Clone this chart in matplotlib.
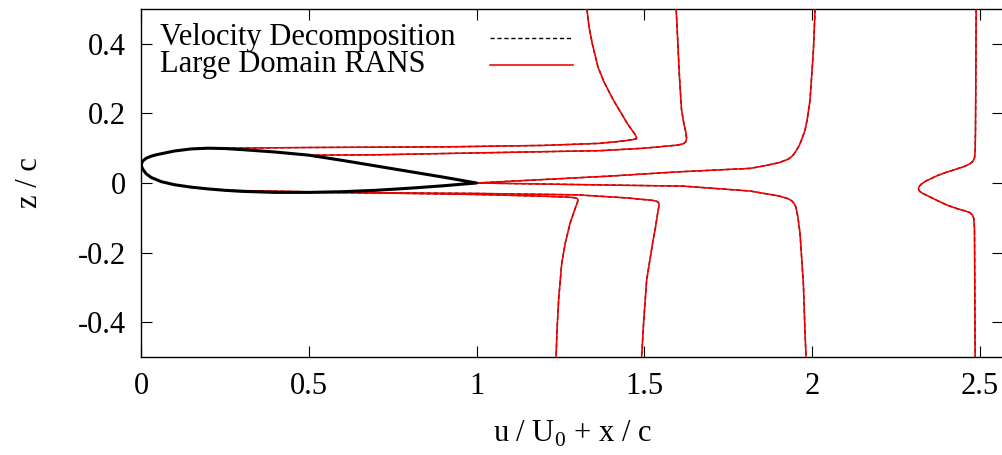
import numpy as np
import matplotlib
matplotlib.use("Agg")
import matplotlib.pyplot as plt

plt.rcParams['font.family'] = ['Liberation Serif', 'DejaVu Serif']
plt.rcParams['mathtext.fontset'] = 'custom'
plt.rcParams['mathtext.rm'] = 'Liberation Serif'
plt.rcParams['axes.unicode_minus'] = False

# airfoil outline (x/c, z/c), upper surface LE->TE then lower TE->LE
foil_x = [0.0, 0.005, 0.015, 0.03, 0.045, 0.1, 0.15, 0.2, 0.25, 0.3, 0.4, 0.5,
          0.6, 0.7, 0.8, 0.9, 1.0,
          0.9, 0.8, 0.7, 0.6, 0.5, 0.4, 0.3, 0.25, 0.2, 0.15, 0.1, 0.06, 0.03,
          0.015, 0.005, 0.0]
foil_z = [0.052, 0.063, 0.071, 0.077, 0.081, 0.092, 0.098, 0.1, 0.099, 0.096,
          0.089, 0.08, 0.065, 0.049, 0.033, 0.017, 0.0,
          -0.008, -0.015, -0.021, -0.025, -0.027, -0.027, -0.024, -0.021,
          -0.017, -0.012, -0.005, 0.004, 0.016, 0.027, 0.04, 0.052]

# station x/c = 0.25, upper side
s025u_x = [0.25, 0.5, 0.92, 1.2, 1.368, 1.44, 1.467, 1.476, 1.477, 1.472, 1.45,
           1.408, 1.38, 1.362, 1.345, 1.335, 1.329]
s025u_z = [0.1, 0.102, 0.104, 0.108, 0.114, 0.121, 0.125, 0.127, 0.131, 0.14,
           0.17, 0.238, 0.29, 0.333, 0.4, 0.45, 0.5]
# station x/c = 0.25, lower side
s025l_x = [0.25, 0.6, 1.0, 1.2, 1.28, 1.297, 1.302, 1.301, 1.295, 1.279, 1.265,
           1.254, 1.245, 1.24, 1.237]
s025l_z = [-0.021, -0.027, -0.033, -0.038, -0.041, -0.043, -0.047, -0.055,
           -0.07, -0.115, -0.17, -0.23, -0.33, -0.42, -0.5]
# station x/c = 0.5, upper side
s05u_x = [0.5, 0.7, 0.92, 1.2, 1.37, 1.5, 1.6, 1.617, 1.624, 1.626, 1.624,
          1.618, 1.611, 1.605, 1.6, 1.595]
s05u_z = [0.08, 0.081, 0.085, 0.09, 0.093, 0.1, 0.109, 0.113, 0.119, 0.128,
          0.145, 0.17, 0.21, 0.3, 0.4, 0.5]
# station x/c = 0.5, lower side
s05l_x = [0.5, 1.0, 1.3, 1.45, 1.525, 1.538, 1.543, 1.544, 1.541, 1.532, 1.526,
          1.507, 1.498, 1.492]
s05l_z = [-0.027, -0.03, -0.034, -0.043, -0.05, -0.053, -0.057, -0.064, -0.08,
          -0.135, -0.165, -0.279, -0.4, -0.5]
# station x/c = 1.0 (trailing edge), top to bottom
s10_x = [2.009, 2.004, 1.994, 1.985, 1.979, 1.969, 1.962, 1.954, 1.946, 1.938,
         1.928, 1.9, 1.845, 1.815, 1.6, 1.4, 1.2, 1.0,
         1.2, 1.4, 1.616, 1.815, 1.9, 1.928, 1.939, 1.946, 1.952, 1.958, 1.964,
         1.974, 1.979, 1.982]
s10_z = [0.5, 0.382, 0.239, 0.18, 0.152, 0.125, 0.108, 0.095, 0.083, 0.075,
         0.068, 0.058, 0.047, 0.042, 0.032, 0.02, 0.01, 0.0,
         -0.003, -0.006, -0.009, -0.023, -0.037, -0.045, -0.051, -0.058,
         -0.07, -0.1, -0.144, -0.288, -0.431, -0.5]
# station x/c = 1.5 (wake), top to bottom
s15_x = [2.489, 2.488, 2.487, 2.486, 2.484, 2.479, 2.47, 2.455, 2.43, 2.401,
         2.375, 2.355, 2.338, 2.326, 2.32, 2.317, 2.318, 2.322, 2.33, 2.345,
         2.37, 2.401, 2.43, 2.455, 2.47, 2.478, 2.482, 2.484, 2.485, 2.486]
s15_z = [0.5, 0.3, 0.152, 0.09, 0.072, 0.062, 0.055, 0.048, 0.04, 0.031,
         0.022, 0.013, 0.005, -0.003, -0.009, -0.015, -0.02, -0.025, -0.03,
         -0.037, -0.049, -0.063, -0.073, -0.08, -0.085, -0.092, -0.102,
         -0.13, -0.3, -0.5]

profiles = [(s025u_x, s025u_z), (s025l_x, s025l_z), (s05u_x, s05u_z),
            (s05l_x, s05l_z), (s10_x, s10_z), (s15_x, s15_z)]

xticks = [0, 0.5, 1, 1.5, 2, 2.5]
yticks = [-0.4, -0.2, 0, 0.2, 0.4]

fig = plt.figure(figsize=(10.03, 4.55), dpi=100)
ax = fig.add_axes([141 / 1003, (455 - 357) / 455, 862 / 1003, 348 / 455])

# velocity decomposition (dashed black) under large domain RANS (red)
for px, pz in profiles:
    ax.plot(px, pz, color='black', lw=1.0, ls=(0, (3, 2)), zorder=2)
for px, pz in profiles:
    ax.plot(px, pz, color='#ee0000', lw=1.15, zorder=3)
ax.plot(foil_x, foil_z, color='black', lw=2.2, zorder=4, solid_joinstyle='round')

ax.set_xlim(0, 2.569)
ax.set_ylim(-0.5, 0.5)
ax.set_xticks(xticks)
ax.set_xticklabels(['%g' % t for t in xticks])
ax.set_yticks(yticks)
ax.set_yticklabels(['%g' % t for t in yticks])
ax.tick_params(direction='in', length=8, width=0.8, labelsize=22, pad=11,
               top=True, right=True)
ax.spines['right'].set_visible(False)
for s in ['left', 'top', 'bottom']:
    ax.spines[s].set_linewidth(1.0)

ax.set_xlabel(r'u / U$_0$ + x / c', fontsize=22, labelpad=13)
ax.set_ylabel('z / c', fontsize=22, labelpad=24)

# legend, gnuplot style: text then sample
ax.text(0.022, 0.917, 'Velocity Decomposition', transform=ax.transAxes,
        fontsize=22, va='center', ha='left')
ax.text(0.022, 0.840, 'Large Domain RANS', transform=ax.transAxes,
        fontsize=22, va='center', ha='left')
ax.plot([0.405, 0.501], [0.917, 0.917], transform=ax.transAxes, color='black',
        lw=1.0, ls=(0, (3, 2)))
ax.plot([0.405, 0.501], [0.840, 0.840], transform=ax.transAxes, color='#ee0000',
        lw=1.15)

fig.savefig('out.png', dpi=100)
